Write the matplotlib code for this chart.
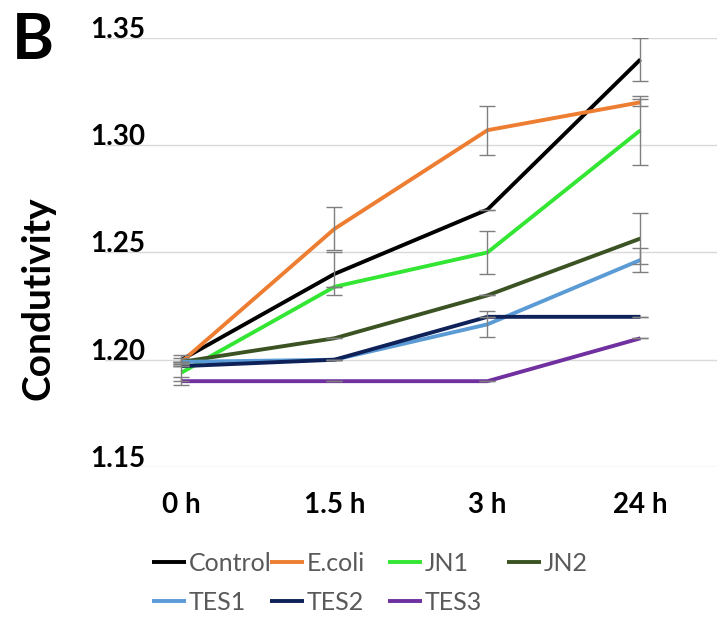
import matplotlib
matplotlib.use("Agg")
import matplotlib.pyplot as plt

plt.rcParams["font.family"] = ["Lato", "DejaVu Sans"]

TIMES = ["0 h", "1.5 h", "3 h", "24 h"]
SERIES = ["Control", "E.coli", "JN1", "JN2", "TES1", "TES2", "TES3"]

CONTROL = [1.200, 1.240, 1.270, 1.340]
ECOLI = [1.199, 1.261, 1.307, 1.320]
JN1 = [1.194, 1.234, 1.250, 1.307]
JN2 = [1.199, 1.210, 1.230, 1.2565]
TES1 = [1.199, 1.200, 1.2165, 1.2465]
TES2 = [1.197, 1.200, 1.220, 1.220]
TES3 = [1.190, 1.190, 1.190, 1.210]

CONTROL_ERR = [0.002, 0.010, 0.0, 0.010]
ECOLI_ERR = [0.002, 0.010, 0.0115, 0.0015]
JN1_ERR = [0.004, 0.0, 0.010, 0.016]
JN2_ERR = [0.0, 0.0, 0.0, 0.0117]
TES1_ERR = [0.0, 0.0, 0.006, 0.0056]
TES2_ERR = [0.0, 0.0, 0.0, 0.0]
TES3_ERR = [0.002, 0.0, 0.0, 0.0]

COLORS = ["#000000", "#ED7D31", "#33E633", "#3B5323", "#5B9BD5", "#0E2158", "#7030A0"]

values = [CONTROL, ECOLI, JN1, JN2, TES1, TES2, TES3]
errors = [CONTROL_ERR, ECOLI_ERR, JN1_ERR, JN2_ERR, TES1_ERR, TES2_ERR, TES3_ERR]

fig = plt.figure(figsize=(7.2, 6.2), dpi=100)
ax = fig.add_axes([0.1458, 0.2468, 0.85, 0.692])

x = list(range(len(TIMES)))
handles = []
for name, vals, err, col in zip(SERIES, values, errors, COLORS):
    (ln,) = ax.plot(x, vals, color=col, lw=2.8, label=name, solid_capstyle="butt",
                    zorder=3)
    ax.errorbar(x, vals, yerr=err, fmt="none", ecolor="#7F7F7F", elinewidth=1,
                capsize=5.5, capthick=1, zorder=4)
    handles.append(ln)

ax.set_xlim(-0.5, 3.5)
ax.set_ylim(1.15, 1.35)
ax.set_yticks([1.15, 1.20, 1.25, 1.30, 1.35])
ax.set_yticklabels(["1.15", "1.20", "1.25", "1.30", "1.35"])
ax.set_xticks(x)
ax.set_xticklabels(TIMES)
ax.grid(axis="y", color="#D9D9D9", lw=1, zorder=0)
ax.set_axisbelow(True)
for s in ax.spines.values():
    s.set_visible(False)
ax.tick_params(axis="both", length=0, labelsize=20)
ax.tick_params(axis="y", pad=-28.8)
ax.tick_params(axis="x", pad=18)
for lab in ax.get_yticklabels():
    lab.set_fontweight("bold")
    lab.set_va("baseline")
for lab in ax.get_xticklabels():
    lab.set_fontweight("bold")

fig.text(0.046, 0.935, "B", fontsize=46, fontweight="bold", ha="center", va="center")
fig.text(0.053, 0.519, "Condutivity", fontsize=28, fontweight="bold", rotation=90,
         ha="center", va="center")

# Excel-style legend: fixed column slots
columns = [[0, 4], [1, 5], [2, 6], [3]]
col_x = [152, 270, 388, 507]
for idx, cx in zip(columns, col_x):
    leg = fig.legend([handles[i] for i in idx], [SERIES[i] for i in idx],
                     loc="upper left", bbox_to_anchor=(cx / 720, 1 - 552 / 620),
                     frameon=False, fontsize=18, handlelength=1.35,
                     handletextpad=0.12, labelspacing=0.62, borderpad=0,
                     borderaxespad=0)
    for t in leg.get_texts():
        t.set_color("#595959")

fig.savefig("out.png", dpi=100)
